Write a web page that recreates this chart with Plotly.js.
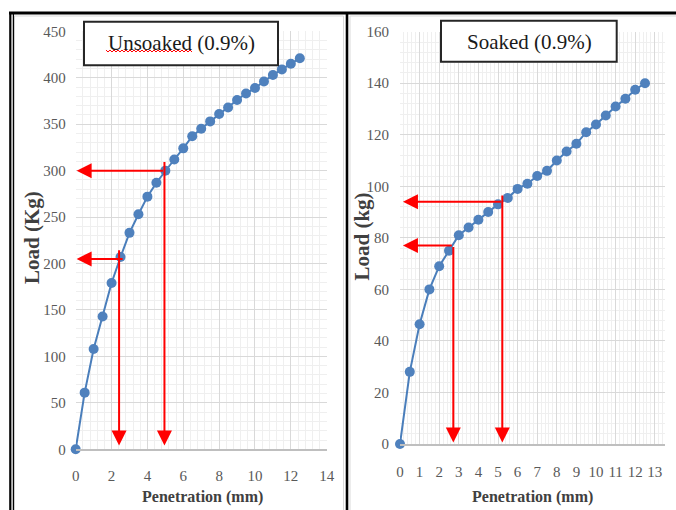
<!DOCTYPE html>
<html>
<head>
<meta charset="utf-8">
<script src="https://cdn.plot.ly/plotly-3.0.1.min.js"></script>
<style>html,body{margin:0;padding:0;background:#fff;}#chart{width:676px;height:510px;}</style>
</head>
<body>
<div id="chart"></div>
<script>
// ---- data ----
const penetration = [0, 0.5, 1, 1.5, 2, 2.5, 3, 3.5, 4, 4.5, 5, 5.5, 6, 6.5, 7, 7.5, 8, 8.5, 9, 9.5, 10, 10.5, 11, 11.5, 12, 12.5];
const unsoakedLoad = [0, 61, 108, 143, 179, 207, 233, 253, 272, 287, 300, 312, 324, 337, 345, 353, 361, 368, 376, 383, 389, 396, 403, 409, 415, 421];
const soakedLoad = [0, 28, 46.5, 60, 69, 75, 81, 84, 87, 90, 93, 95.5, 99, 101, 104, 106, 110, 113.5, 116.5, 121, 124, 127.5, 131, 134, 137.5, 140];

// red guide arrows (values in axis units)
const unsoakedHLoad = [205, 300];      // horizontal arrows: load level
const unsoakedHFrom = [2.7, 4.95];     // start penetration of horizontal arrows
const unsoakedVPen = [2.42, 4.95];     // vertical arrows: penetration
const unsoakedVFrom = [216, 311];      // start load of vertical arrows
const soakedHLoad = [77, 94];
const soakedHFrom = [2.72, 5.22];
const soakedVPen = [2.72, 5.22];
const soakedVFrom = [77, 97];
const arrowTipPen = [0.05, 0.15];      // [unsoaked, soaked] tip of horizontal arrows
const arrowTipLoad = [4, 0.6];         // [unsoaked, soaked] tip of vertical arrows

const unsoakedXTicks = [0, 2, 4, 6, 8, 10, 12, 14];
const unsoakedYTicks = [0, 50, 100, 150, 200, 250, 300, 350, 400, 450];
const soakedXTicks = [0, 1, 2, 3, 4, 5, 6, 7, 8, 9, 10, 11, 12, 13];
const soakedYTicks = [0, 20, 40, 60, 80, 100, 120, 140, 160];

const titleLeft = 'Unsoaked (0.9%)';
const titleRight = 'Soaked (0.9%)';
const xTitle = 'Penetration (mm)';
const yTitleLeft = 'Load (Kg)';
const yTitleRight = 'Load (kg)';

// ---- helpers ----
const W = 676, H = 510;
const px = v => v / W;
const py = v => 1 - v / H;
const SERIF = 'Liberation Serif, Times New Roman, serif';

const lineColor = '#4a7ebb';
const markerColor = '#4f81bd';

const traces = [
  {x: penetration, y: unsoakedLoad, xaxis: 'x', yaxis: 'y', type: 'scatter', mode: 'lines+markers',
   line: {color: lineColor, width: 2}, marker: {color: markerColor, size: 10}, cliponaxis: false, hoverinfo: 'none'},
  {x: penetration, y: soakedLoad, xaxis: 'x2', yaxis: 'y2', type: 'scatter', mode: 'lines+markers',
   line: {color: lineColor, width: 2}, marker: {color: markerColor, size: 10}, cliponaxis: false, hoverinfo: 'none'}
];

const tickFont = {family: SERIF, size: 15, color: '#595959'};
const majorGrid = '#d9d9d9';
const minorGrid = '#efefef';

function xAxis(domain, range, ticks, minorD, standoff, anchor) {
  return {domain: domain, range: range, tickvals: ticks, ticktext: ticks.map(String), showgrid: true, gridcolor: majorGrid, gridwidth: 1,
    minor: {dtick: minorD, showgrid: true, gridcolor: minorGrid, gridwidth: 1, tick0: 0},
    zeroline: false, showline: true, linecolor: '#bfbfbf', linewidth: 1.5, ticks: '', tickfont: tickFont,
    ticklabelstandoff: standoff, anchor: anchor, fixedrange: true};
}
function yAxis(domain, range, ticks, minorD, standoff, anchor) {
  return {domain: domain, range: range, tickvals: ticks, ticktext: ticks.map(String), showgrid: true, gridcolor: majorGrid, gridwidth: 1,
    minor: {dtick: minorD, showgrid: true, gridcolor: minorGrid, gridwidth: 1, tick0: 0},
    zeroline: false, showline: false, ticks: '', tickfont: tickFont,
    ticklabelstandoff: standoff, anchor: anchor, fixedrange: true};
}

const annotations = [];
const shapes = [];

function arrow(xr, yr, tipX, tipY, tailX, tailY) {
  annotations.push({xref: xr, yref: yr, axref: xr, ayref: yr, x: tipX, y: tipY, ax: tailX, ay: tailY,
    text: '', showarrow: true, arrowhead: 2, arrowsize: 1.5, arrowwidth: 2, arrowcolor: '#ff0000', standoff: 0});
}
for (let i = 0; i < unsoakedHLoad.length; i++) {
  arrow('x', 'y', arrowTipPen[0], unsoakedHLoad[i], unsoakedHFrom[i], unsoakedHLoad[i]);
  arrow('x', 'y', unsoakedVPen[i], arrowTipLoad[0], unsoakedVPen[i], unsoakedVFrom[i]);
}
for (let i = 0; i < soakedHLoad.length; i++) {
  arrow('x2', 'y2', arrowTipPen[1], soakedHLoad[i], soakedHFrom[i], soakedHLoad[i]);
  arrow('x2', 'y2', soakedVPen[i], arrowTipLoad[1], soakedVPen[i], soakedVFrom[i]);
}

// frame of the figure
function pline(x0, y0, x1, y1, color, width) {
  shapes.push({type: 'line', xref: 'paper', yref: 'paper', x0: px(x0), y0: py(y0), x1: px(x1), y1: py(y1),
    line: {color: color, width: width}, layer: 'above'});
}
// chart-area light borders
shapes.push({type: 'rect', xref: 'paper', yref: 'paper', x0: px(14.5), y0: py(16), x1: px(343.5), y1: py(520), line: {color: '#d9d9d9', width: 1}, layer: 'below'});
shapes.push({type: 'rect', xref: 'paper', yref: 'paper', x0: px(350), y0: py(16), x1: px(690), y1: py(520), line: {color: '#d9d9d9', width: 1}, layer: 'below'});
pline(9, 13, 676, 13, '#000000', 3);
pline(10.3, 12, 10.3, 510, '#000000', 2.2);
pline(13.4, 12, 13.4, 510, '#000000', 1.3);
pline(347, 12, 347, 510, '#000000', 2.6);

// title boxes
shapes.push({type: 'rect', xref: 'paper', yref: 'paper', x0: px(84), y0: py(65.3), x1: px(278), y1: py(21.7),
  fillcolor: '#ffffff', line: {color: '#262626', width: 2}, layer: 'above'});
shapes.push({type: 'rect', xref: 'paper', yref: 'paper', x0: px(441), y0: py(61.7), x1: px(616.7), y1: py(20.7),
  fillcolor: '#ffffff', line: {color: '#262626', width: 2}, layer: 'above'});
// spell-check wavy underline under "Unsoaked"
let wave = '';
for (let xv = 106, k = 0; xv <= 192; xv += 2, k++) {
  const yv = 51 + (k % 2 === 0 ? -1 : 1);
  wave += (k === 0 ? 'M' : 'L') + px(xv).toFixed(5) + ',' + py(yv).toFixed(5);
}
shapes.push({type: 'path', xref: 'paper', yref: 'paper', path: wave, line: {color: '#ff0000', width: 1}, layer: 'above'});

annotations.push({xref: 'paper', yref: 'paper', x: px(181.5), y: py(43), xanchor: 'center', yanchor: 'middle', text: titleLeft,
  showarrow: false, font: {family: SERIF, size: 21, color: '#1a1a1a'}});
annotations.push({xref: 'paper', yref: 'paper', x: px(529), y: py(41.5), xanchor: 'center', yanchor: 'middle', text: titleRight,
  showarrow: false, font: {family: SERIF, size: 21, color: '#1a1a1a'}});

// axis titles
const axTitleFont = {family: SERIF, size: 16, color: '#404040'};
annotations.push({xref: 'paper', yref: 'paper', x: px(202), y: py(497), xanchor: 'center', yanchor: 'middle', text: '<b>' + xTitle + '</b>', showarrow: false, font: axTitleFont});
annotations.push({xref: 'paper', yref: 'paper', x: px(532), y: py(496.5), xanchor: 'center', yanchor: 'middle', text: '<b>' + xTitle + '</b>', showarrow: false, font: axTitleFont});
annotations.push({xref: 'paper', yref: 'paper', x: px(31.5), y: py(237.5), xanchor: 'center', yanchor: 'middle', textangle: -90, text: '<b>' + yTitleLeft + '</b>', showarrow: false, font: {family: SERIF, size: 21, color: '#404040'}});
annotations.push({xref: 'paper', yref: 'paper', x: px(361), y: py(236.5), xanchor: 'center', yanchor: 'middle', textangle: -90, text: '<b>' + yTitleRight + '</b>', showarrow: false, font: {family: SERIF, size: 21, color: '#404040'}});

const layout = {
  width: W, height: H, margin: {l: 0, r: 0, t: 0, b: 0}, paper_bgcolor: '#ffffff', plot_bgcolor: '#ffffff', showlegend: false,
  xaxis: xAxis([px(75.7), px(326.7)], [0, 14], unsoakedXTicks, 0.4, 12, 'y'),
  yaxis: yAxis([py(449.3), py(31.3)], [0, 450], unsoakedYTicks, 10, 9, 'x'),
  xaxis2: xAxis([px(400), px(664.6)], [0, 13.5], soakedXTicks, 0.2, 13, 'y2'),
  yaxis2: yAxis([py(444), py(31.7)], [0, 160], soakedYTicks, 10, 10, 'x2'),
  annotations: annotations, shapes: shapes
};
layout.yaxis2.minor.dtick = 4;

Plotly.newPlot('chart', traces, layout, {staticPlot: true, displayModeBar: false});
</script>
</body>
</html>
